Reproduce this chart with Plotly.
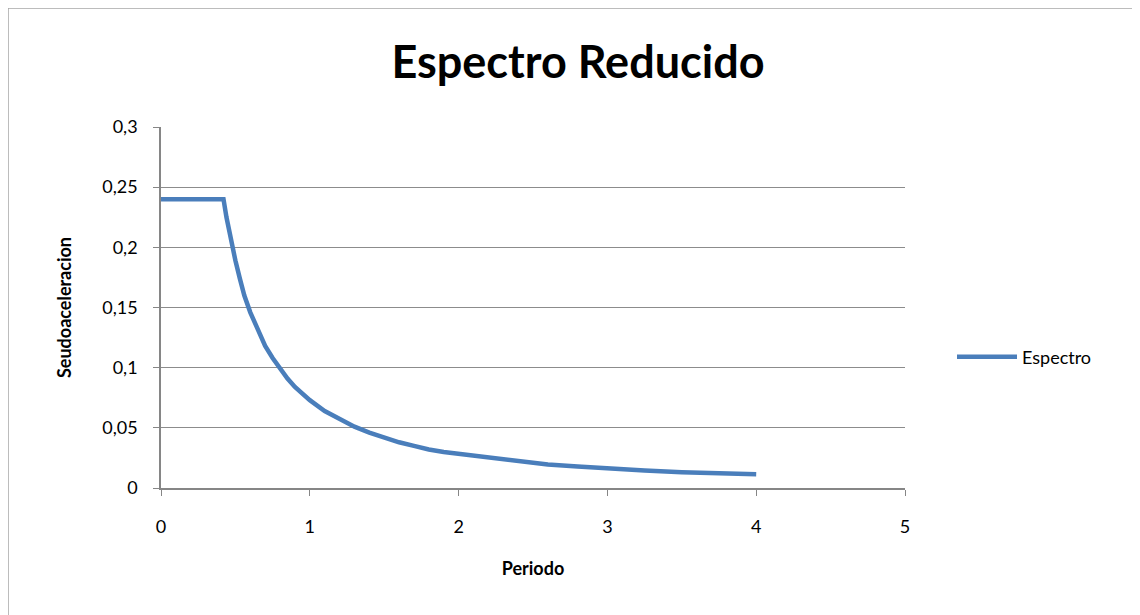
import plotly.graph_objects as go

periodo = [0, 0.1, 0.2, 0.3, 0.42, 0.44, 0.46, 0.48, 0.5, 0.53, 0.56, 0.6, 0.65, 0.7, 0.75,
           0.8, 0.85, 0.9, 0.95, 1.0, 1.1, 1.2, 1.3, 1.4, 1.5, 1.6, 1.7, 1.8, 1.9, 2.0,
           2.2, 2.4, 2.6, 2.8, 3.0, 3.25, 3.5, 3.75, 4.0]
espectro = [0.24, 0.24, 0.24, 0.24, 0.24, 0.225, 0.212, 0.2, 0.189, 0.174, 0.16, 0.146,
            0.131, 0.118, 0.108, 0.099, 0.091, 0.084, 0.078, 0.073, 0.064, 0.057, 0.051,
            0.046, 0.042, 0.038, 0.035, 0.032, 0.030, 0.0285, 0.025, 0.022, 0.0195,
            0.0178, 0.0161, 0.0145, 0.0131, 0.0122, 0.0114]
y_ticks = [0, 0.05, 0.1, 0.15, 0.2, 0.25, 0.3]
x_ticks = [0, 1, 2, 3, 4, 5]

FONT = "Lato"
OFF = 8  # page body margin
W, H = 1140, 615
ml, mt = 161 - OFF, 127 - OFF
mr = W - (905 - OFF)
mb = H - (488 - OFF)
pw, ph = W - ml - mr, H - mt - mb

fig = go.Figure()
fig.add_trace(go.Scatter(
    x=periodo, y=espectro, mode="lines", name="Espectro",
    line=dict(color="#4a7ebb", width=4.5),
))

fig.update_layout(
    width=W, height=H,
    margin=dict(l=ml, r=mr, t=mt, b=mb),
    paper_bgcolor="white", plot_bgcolor="white",
    separators=",.",
    font=dict(family=FONT, color="#000000", size=16),
    title=dict(text="<b>Espectro Reducido</b>", x=(578 - OFF) / W, xanchor="center",
               y=1 - (62 - OFF) / H, yanchor="middle",
               font=dict(family=FONT, size=45, color="#000000")),
    showlegend=True,
    legend=dict(x=(952 - 161) / pw, y=(488 - 357) / ph, xanchor="left", yanchor="middle",
                font=dict(family=FONT, size=18, color="#000000"),
                itemwidth=60, bgcolor="rgba(0,0,0,0)"),
    xaxis=dict(range=[0, 5], tickvals=x_ticks, showgrid=False, zeroline=False,
               showline=True, linecolor="#868686", linewidth=1.5,
               ticks="outside", ticklen=6, tickcolor="#868686",
               tickfont=dict(size=18), ticklabelstandoff=16,
               title=dict(text="<b>Periodo</b>", font=dict(size=18), standoff=26)),
    yaxis=dict(range=[0, 0.3], tickvals=y_ticks, showgrid=True, gridcolor="#8c8c8c",
               gridwidth=1, zeroline=False, showline=True, linecolor="#868686",
               linewidth=1.5, ticks="outside", ticklen=6, tickcolor="#868686",
               tickfont=dict(size=18), ticklabelstandoff=12,
               title=dict(text="<b>Seudoaceleracion</b>", font=dict(size=18), standoff=26)),
    shapes=[dict(type="rect", xref="paper", yref="paper",
                 x0=(8 - 161) / pw, x1=(1160 - 161) / pw,
                 y0=-(615 - 488 + 20) / ph, y1=1 + (127 - 8) / ph,
                 line=dict(color="#a6a6a6", width=1.5), layer="below")],
)

fig.write_html("out.html")
